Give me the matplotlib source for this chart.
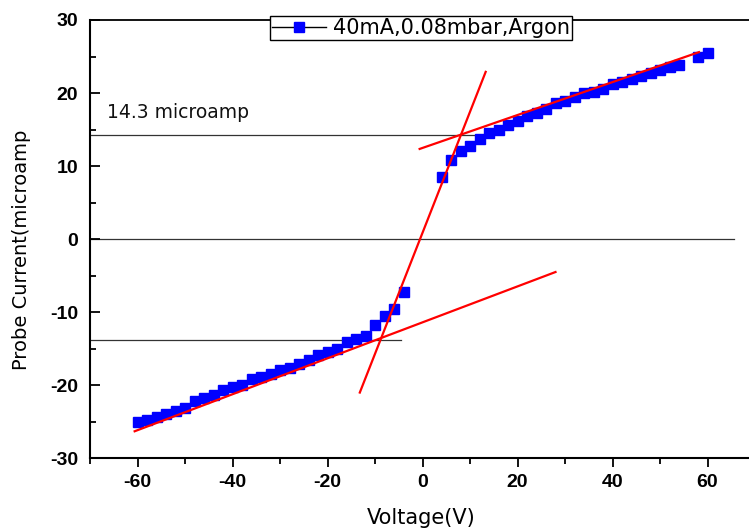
import matplotlib
matplotlib.use("Agg")
import matplotlib.pyplot as plt
from matplotlib.ticker import MultipleLocator

plt.rcParams["axes.unicode_minus"] = False

# ---- data ----
v_neg = [-60, -58, -56, -54, -52, -50, -48, -46, -44, -42, -40, -38, -36, -34, -32,
         -30, -28, -26, -24, -22, -20, -18, -16, -14, -12, -10, -8, -6, -4]
i_neg = [-25.0, -24.7, -24.3, -24.0, -23.5, -23.1, -22.2, -21.8, -21.3, -20.6, -20.3,
         -19.9, -19.2, -18.9, -18.4, -17.9, -17.7, -17.1, -16.6, -15.9, -15.4, -15.0,
         -14.1, -13.7, -13.3, -11.7, -10.5, -9.5, -7.2]
v_pos = [4, 6, 8, 10, 12, 14, 16, 18, 20, 22, 24, 26, 28, 30, 32, 34, 36, 38, 40,
         42, 44, 46, 48, 50, 52, 54, 58, 60]
i_pos = [8.5, 10.9, 12.0, 12.8, 13.7, 14.5, 15.0, 15.6, 16.2, 16.9, 17.3, 17.8, 18.6,
         18.9, 19.4, 20.0, 20.2, 20.6, 21.2, 21.5, 21.9, 22.3, 22.7, 23.2, 23.6, 23.9,
         25.0, 25.5]
voltage = v_neg + v_pos
current = i_neg + i_pos

# fitted (red) lines: (x0, x1), (y0, y1)
fit_steep = [(-13.2, 13.3), (-21.0, 22.9)]
fit_upper = [(-0.6, 58.2), (12.35, 25.6)]
fit_lower = [(-60.6, 28.0), (-26.3, -4.5)]

# horizontal reference lines: (y, x_end)
ref_lines = [(14.3, 15.0), (0.0, 65.5), (-13.8, -4.6)]

series_label = "40mA,0.08mbar,Argon"
annot_text = "14.3 microamp"
x_ticks = [-60, -40, -20, 0, 20, 40, 60]
y_ticks = [-30, -20, -10, 0, 10, 20, 30]

# ---- figure ----
fig = plt.figure(figsize=(7.49, 5.32), dpi=100)
W, H = 749, 532
ax = fig.add_axes([90 / W, (H - 458.3) / H, 665 / W, (458.3 - 20) / H])
ax.set_xlim(-70, 70)
ax.set_ylim(-30, 30)

for y, xe in ref_lines:
    ax.plot([-70, xe], [y, y], color="#333333", lw=0.9, zorder=1, clip_on=False)

ax.plot(voltage, current, linestyle="none", marker="s", markersize=7.0,
        color="#0000ff", markeredgecolor="#0000ff", zorder=2)

for xs, ys in (fit_steep, fit_upper, fit_lower):
    ax.plot(xs, ys, color="#ff0000", lw=1.6, zorder=3)

ax.text(-66.4, 16.55, annot_text, fontsize=13.5, family="DejaVu Sans",
        ha="left", va="baseline", color="#111111")

# legend proxy
h, = ax.plot([], [], color="black", lw=1, marker="s", markersize=7.5,
             markerfacecolor="#0000ff", markeredgecolor="#0000ff")
leg = ax.legend([h], [series_label], loc="center",
                bbox_to_anchor=(421 / W, 1 - 28.3 / H), bbox_transform=fig.transFigure,
                fancybox=False, framealpha=1, edgecolor="black",
                prop={"family": "DejaVu Sans", "size": 15},
                handlelength=2.6, handletextpad=0.3, borderpad=0.1,
                borderaxespad=0)
leg.get_frame().set_linewidth(1.0)
leg.set_zorder(10)

# spines
ax.spines["right"].set_visible(False)
for s in ("left", "bottom", "top"):
    ax.spines[s].set_linewidth(1.5)
ax.spines["top"].set_linewidth(1.3)

ax.set_xticks(x_ticks)
ax.set_yticks(y_ticks)
ax.xaxis.set_minor_locator(MultipleLocator(10))
ax.yaxis.set_minor_locator(MultipleLocator(5))
ax.tick_params(axis="y", which="major", direction="in", length=7, width=1.3,
               pad=8.5, left=True, right=False)
ax.tick_params(axis="y", which="minor", direction="in", length=4.5, width=1.3,
               left=True, right=False)
ax.tick_params(axis="x", which="major", direction="out", length=6.5, width=1.3,
               pad=5, top=False)
ax.tick_params(axis="x", which="minor", direction="out", length=4, width=1.3,
               top=False)
for lab in ax.get_xticklabels() + ax.get_yticklabels():
    lab.set_fontfamily("Liberation Sans")
    lab.set_fontweight("bold")
    lab.set_fontsize(14)

fig.text(421 / W, 1 - 518 / H, "Voltage(V)", ha="center", va="center",
         fontsize=15, family="DejaVu Sans")
fig.text(22 / W, 1 - 250 / H, "Probe Current(microamp", ha="center", va="center",
         rotation=90, fontsize=14, family="DejaVu Sans")

fig.savefig("out.png", dpi=100)
